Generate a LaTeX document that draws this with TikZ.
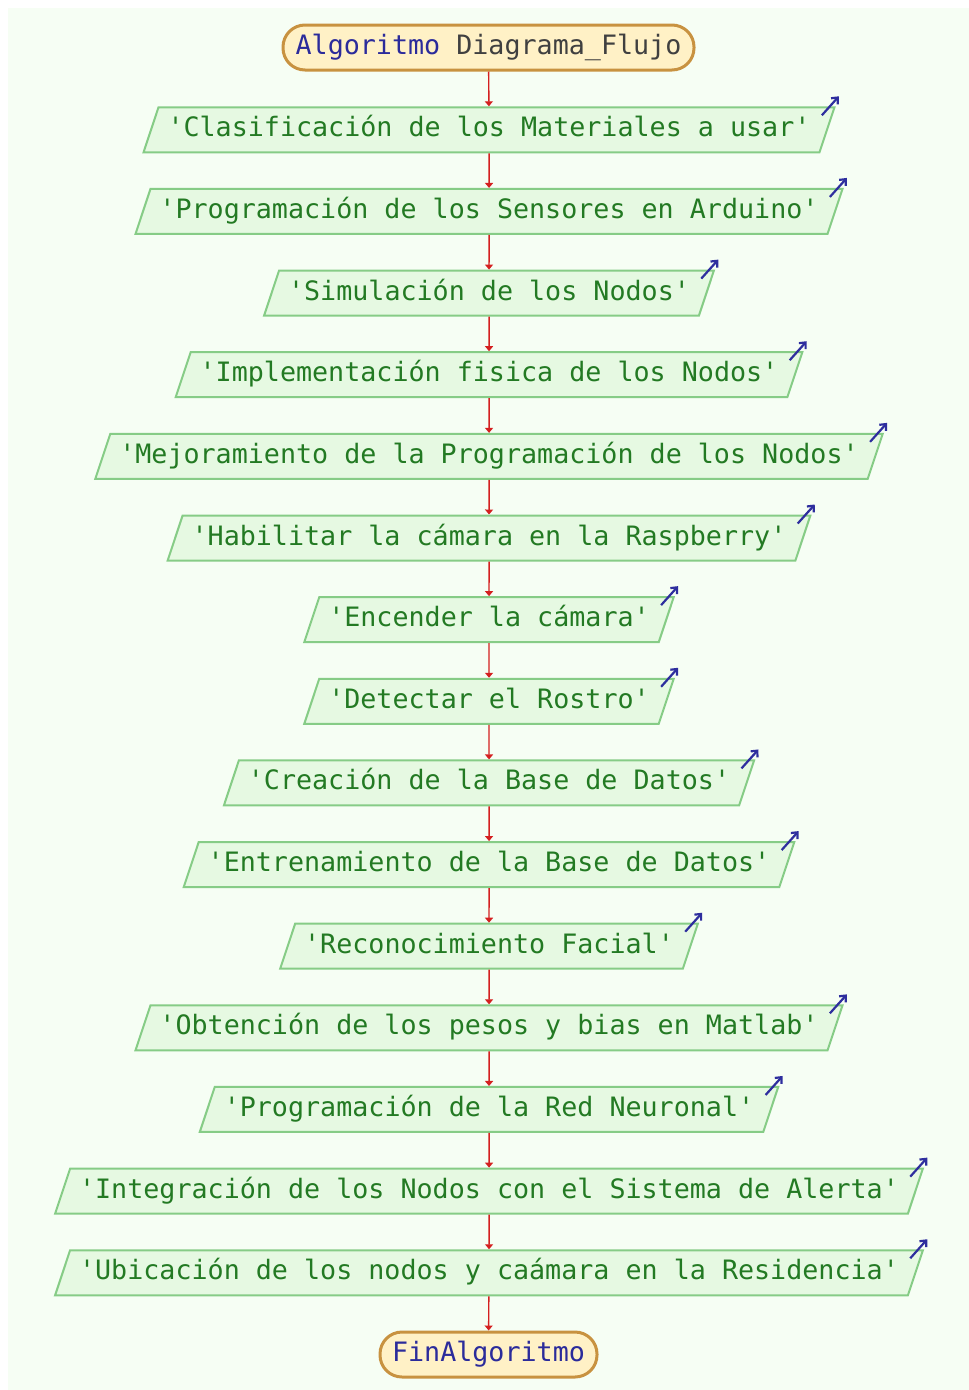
\documentclass[tikz,border=0pt]{standalone}
\usepackage{fontspec}
\setmonofont{DejaVu Sans Mono}
\usetikzlibrary{shapes.geometric,arrows.meta}
\definecolor{bgmint}{HTML}{F6FEF4}
\definecolor{boxfill}{HTML}{E6F9E2}
\definecolor{boxline}{HTML}{86CC86}
\definecolor{boxtext}{HTML}{237A23}
\definecolor{termfill}{HTML}{FFF1C6}
\definecolor{termline}{HTML}{C89240}
\definecolor{kwblue}{HTML}{2B2B9B}
\definecolor{idgray}{HTML}{404040}
\definecolor{flowred}{HTML}{D42020}
\definecolor{outblue}{HTML}{2E2E9E}
\begin{document}
\begin{tikzpicture}[x=1pt,y=-1pt,
  txt/.style={font=\ttfamily\fontsize{26.7}{30}\selectfont},
  io/.style={txt, trapezium, trapezium left angle=71.6, trapezium right angle=108.4,
    draw=boxline, fill=boxfill, line width=2pt, text=boxtext,
    text height=19pt, text depth=5pt, inner ysep=10.5pt, inner xsep=9pt},
  term/.style={txt, rectangle, rounded corners=22pt, draw=termline, fill=termfill,
    line width=3pt, minimum height=45pt, text height=19pt, text depth=5pt, inner ysep=0pt},
  flow/.style={draw=flowred, line width=1.4pt, -{Triangle[length=5pt,width=8pt]}},
  outarrow/.style={draw=outblue, line width=2.2pt, -{Straight Barb[length=5pt,width=9pt]}}
]
\useasboundingbox (0,0) rectangle (969,1390);
\fill[white] (0,0) rectangle (969,1390);
\fill[bgmint] (8,8) rectangle (969,1390);

\node[term, minimum width=411pt] (start) at (488.5,47.5)
  {\textcolor{kwblue}{Algoritmo} \textcolor{idgray}{Diagrama\_Flujo}};

\foreach \t [count=\i] in {
  'Clasificación de los Materiales a usar',
  'Programación de los Sensores en Arduino',
  'Simulación de los Nodos',
  'Implementación fisica de los Nodos',
  'Mejoramiento de la Programación de los Nodos',
  'Habilitar la cámara en la Raspberry',
  'Encender la cámara',
  'Detectar el Rostro',
  'Creación de la Base de Datos',
  'Entrenamiento de la Base de Datos',
  'Reconocimiento Facial',
  'Obtención de los pesos y bias en Matlab',
  'Programación de la Red Neuronal',
  'Integración de los Nodos con el Sistema de Alerta',
  'Ubicación de los nodos y caámara en la Residencia'}
{
  \pgfmathsetmacro{\yy}{129.8+81.64*(\i-1)}
  \node[io] (b\i) at (489,\yy) {\t};
  \coordinate (os\i) at ([shift={(-14,9)}]b\i.top right corner);
  \coordinate (oe\i) at ([shift={(3,-10)}]b\i.top right corner);
  \draw[outarrow] (os\i) -- (oe\i);
}

\node[term, minimum width=217pt, text=kwblue] (fin) at (488.5,1354.5) {FinAlgoritmo};

\draw[flow] (start) -- (b1);
\foreach \i in {2,...,15}{
  \pgfmathtruncatemacro{\p}{\i-1}
  \draw[flow] (b\p) -- (b\i);
}
\draw[flow] (b15) -- (fin);
\end{tikzpicture}
\end{document}
